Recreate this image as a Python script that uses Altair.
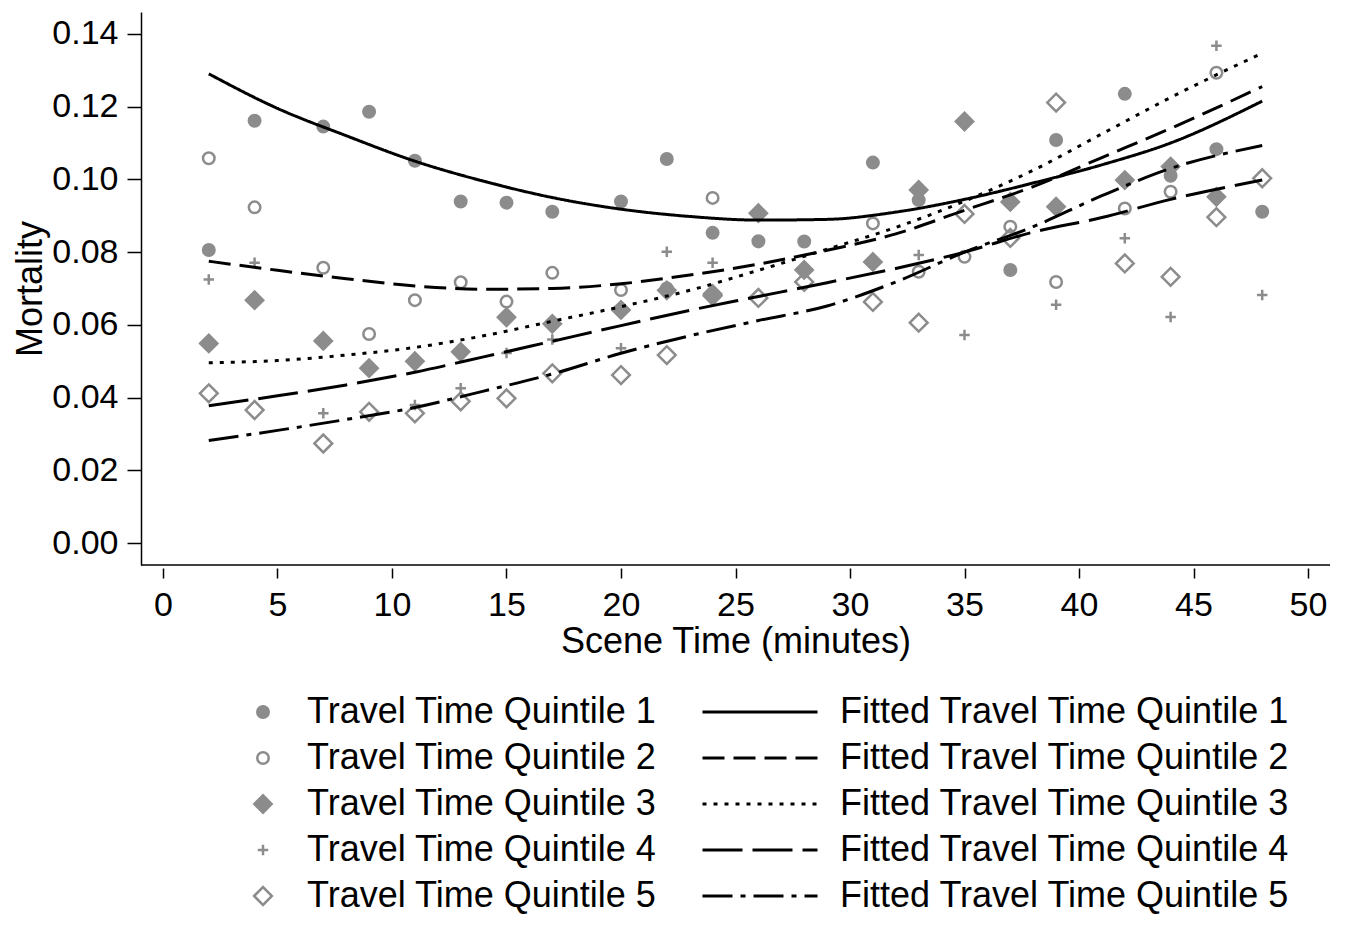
import altair as alt
import pandas as pd

# ---------------- data ----------------
X_POINTS = [2, 4, 7, 9, 11, 13, 15, 17, 20, 22, 24, 26, 28, 31, 33, 35, 37, 39, 42, 44, 46, 48]

Q1 = [0.0806, 0.1161, 0.1145, 0.1186, 0.1051, 0.0939, 0.0936, 0.0911, 0.0939, 0.1056, 0.0853,
      0.0830, 0.0829, 0.1046, 0.0943, None, 0.0751, 0.1108, 0.1235, 0.1010, 0.1083, 0.0911]
Q2 = [0.1058, 0.0923, 0.0757, 0.0575, 0.0668, 0.0717, 0.0664, 0.0743, 0.0696, 0.0700, 0.0949,
      None, None, 0.0879, 0.0746, 0.0787, 0.0870, 0.0718, 0.0920, 0.0966, 0.1293, None]
Q3 = [0.0549, 0.0668, 0.0556, 0.0481, 0.0500, 0.0526, 0.0621, 0.0603, 0.0641, 0.0695, 0.0685,
      0.0907, 0.0751, 0.0773, 0.0971, 0.1159, 0.0938, 0.0925, 0.0998, 0.1035, 0.0952, None]
Q4 = [0.0725, 0.0771, 0.0357, None, 0.0380, 0.0426, 0.0523, 0.0560, 0.0536, 0.0801, 0.0771,
      0.0825, None, None, 0.0792, 0.0572, None, 0.0655, 0.0838, 0.0622, 0.1367, 0.0682]
Q5 = [0.0412, 0.0366, 0.0274, 0.0361, 0.0357, 0.0390, 0.0398, 0.0467, 0.0462, 0.0517, 0.0680,
      0.0674, 0.0718, 0.0663, 0.0606, 0.0905, 0.0839, 0.1211, 0.0769, 0.0732, 0.0896, 0.1003]

FIT_X = [2, 5, 8, 11, 14, 17, 20, 23, 26, 29, 32, 35, 38, 41, 44, 48]
FIT1 = [0.1290, 0.1195, 0.1120, 0.1050, 0.0995, 0.0950, 0.0918, 0.0898, 0.0888, 0.0890, 0.0910,
        0.0945, 0.0990, 0.1040, 0.1100, 0.1215]
FIT2 = [0.0775, 0.0750, 0.0727, 0.0707, 0.0698, 0.0700, 0.0713, 0.0737, 0.0767, 0.0805, 0.0850,
        0.0915, 0.0980, 0.1060, 0.1140, 0.1255]
FIT3 = [0.0496, 0.0502, 0.0517, 0.0538, 0.0570, 0.0610, 0.0650, 0.0695, 0.0750, 0.0808, 0.0868,
        0.0940, 0.1025, 0.1125, 0.1225, 0.1347]
FIT4 = [0.0378, 0.0405, 0.0435, 0.0470, 0.0512, 0.0555, 0.0598, 0.0640, 0.0678, 0.0716, 0.0755,
        0.0800, 0.0855, 0.0895, 0.0945, 0.0998]
FIT5 = [0.0282, 0.0310, 0.0340, 0.0373, 0.0418, 0.0465, 0.0522, 0.0570, 0.0612, 0.0652, 0.0718,
        0.0800, 0.0870, 0.0955, 0.1030, 0.1093]

POINT_LABELS = ["Travel Time Quintile 1", "Travel Time Quintile 2", "Travel Time Quintile 3",
                "Travel Time Quintile 4", "Travel Time Quintile 5"]
FIT_LABELS = ["Fitted Travel Time Quintile 1", "Fitted Travel Time Quintile 2",
              "Fitted Travel Time Quintile 3", "Fitted Travel Time Quintile 4",
              "Fitted Travel Time Quintile 5"]
X_TICKS = [0, 5, 10, 15, 20, 25, 30, 35, 40, 45, 50]
Y_TICKS = [0.00, 0.02, 0.04, 0.06, 0.08, 0.10, 0.12, 0.14]
X_DOMAIN = [-0.96, 50.96]
Y_DOMAIN = [-0.006, 0.146]

# ---------------- tables ----------------
rows = []
for lab, vals in zip(POINT_LABELS, [Q1, Q2, Q3, Q4, Q5]):
    for x, v in zip(X_POINTS, vals):
        if v is not None:
            rows.append({"x": x, "y": v, "series": lab})
points_df = pd.DataFrame(rows)

frows = []
for lab, vals in zip(FIT_LABELS, [FIT1, FIT2, FIT3, FIT4, FIT5]):
    for x, v in zip(FIT_X, vals):
        frows.append({"x": x, "y": v, "series": lab})
fit_df = pd.DataFrame(frows)

# ---------------- styles ----------------
FONT = "Liberation Sans"
FS_TICK = 34
FS_TEXT = 36
GRAY = "#8c8c8c"
SYMBOL_SIZE = 625  # unit box of the symbol paths below
SMALL_CIRCLE = "M0.46,0A0.46,0.46,0,1,1,-0.46,0A0.46,0.46,0,1,1,0.46,0Z"
BIG_DIAMOND = "M-0.69,0L0,-0.69L0.69,0L0,0.69Z"
HOLLOW_DIAMOND = "M-0.71,0L0,-0.71L0.71,0L0,0.71Z"
PLUS = "M-0.42,0H0.42M0,-0.42V0.42"
SHAPES = [SMALL_CIRCLE, SMALL_CIRCLE, BIG_DIAMOND, PLUS, HOLLOW_DIAMOND]
FILLS = [GRAY, "transparent", GRAY, "transparent", "transparent"]
STROKES = [GRAY, GRAY, GRAY, GRAY, GRAY]
DASHES = [[1, 0], [22, 9], [4, 7], [40, 10], [30, 8, 5, 8]]

pt_legend = alt.Legend(title=None, orient="none", legendX=104, legendY=683,
                       labelFont=FONT, labelFontSize=FS_TEXT, labelColor="black",
                       labelOffset=26, rowPadding=10, clipHeight=34, padding=0,
                       labelLimit=1000, symbolStrokeWidth=2.5, symbolSize=SYMBOL_SIZE)
fit_legend = alt.Legend(title=None, orient="none", legendX=560, legendY=683,
                        labelFont=FONT, labelFontSize=FS_TEXT, labelColor="black",
                        labelOffset=21, rowPadding=10, clipHeight=34, padding=0,
                        labelLimit=1000, symbolType="stroke", symbolSize=13225,
                        symbolStrokeWidth=3, symbolStrokeColor="black")

x_enc = alt.X("x:Q", scale=alt.Scale(domain=X_DOMAIN, nice=False, zero=False),
              title="Scene Time (minutes)",
              axis=alt.Axis(values=X_TICKS, format="d", grid=False, domain=False, offset=3,
                            tickSize=10, tickWidth=1.5, tickColor="black",
                            labelFont=FONT, labelFontSize=FS_TICK, labelColor="black", labelPadding=10,
                            titleFont=FONT, titleFontSize=FS_TEXT, titleFontWeight="normal",
                            titleColor="black", titlePadding=2))
y_enc = alt.Y("y:Q", scale=alt.Scale(domain=Y_DOMAIN, nice=False, zero=False),
              title="Mortality",
              axis=alt.Axis(values=Y_TICKS, format=".2f", grid=False, domainColor="black",
                            domainWidth=1.5, tickSize=14, tickWidth=1.5, tickColor="black",
                            labelFont=FONT, labelFontSize=FS_TICK, labelColor="black", labelPadding=9,
                            titleFont=FONT, titleFontSize=FS_TEXT, titleFontWeight="normal",
                            titleColor="black", titlePadding=2))

points = alt.Chart(points_df).mark_point(filled=True, opacity=1, strokeWidth=2.5,
                                         size=SYMBOL_SIZE).encode(
    x=x_enc,
    y=y_enc,
    shape=alt.Shape("series:N", scale=alt.Scale(domain=POINT_LABELS, range=SHAPES), legend=pt_legend),
    fill=alt.Fill("series:N", scale=alt.Scale(domain=POINT_LABELS, range=FILLS), legend=pt_legend),
    stroke=alt.Stroke("series:N", scale=alt.Scale(domain=POINT_LABELS, range=STROKES), legend=pt_legend),
)

lines = alt.Chart(fit_df).mark_line(color="black", strokeWidth=3, interpolate="monotone").encode(
    x="x:Q",
    y="y:Q",
    strokeDash=alt.StrokeDash("series:N", scale=alt.Scale(domain=FIT_LABELS, range=DASHES),
                              legend=fit_legend),
)

baseline = alt.Chart(pd.DataFrame({"a": [0]})).mark_rule(color="black", strokeWidth=1.5).encode(
    y=alt.datum(Y_DOMAIN[0])
)

chart = alt.layer(points, lines, baseline).properties(
    width=1189, height=553,
    background="white",
    autosize=alt.AutoSizeParams(type="none"),
    padding={"left": 133, "top": 4, "right": 5, "bottom": 350},
).configure_view(strokeWidth=0, stroke=None)

chart.save("out.html", embed_options={"renderer": "svg", "actions": False})
